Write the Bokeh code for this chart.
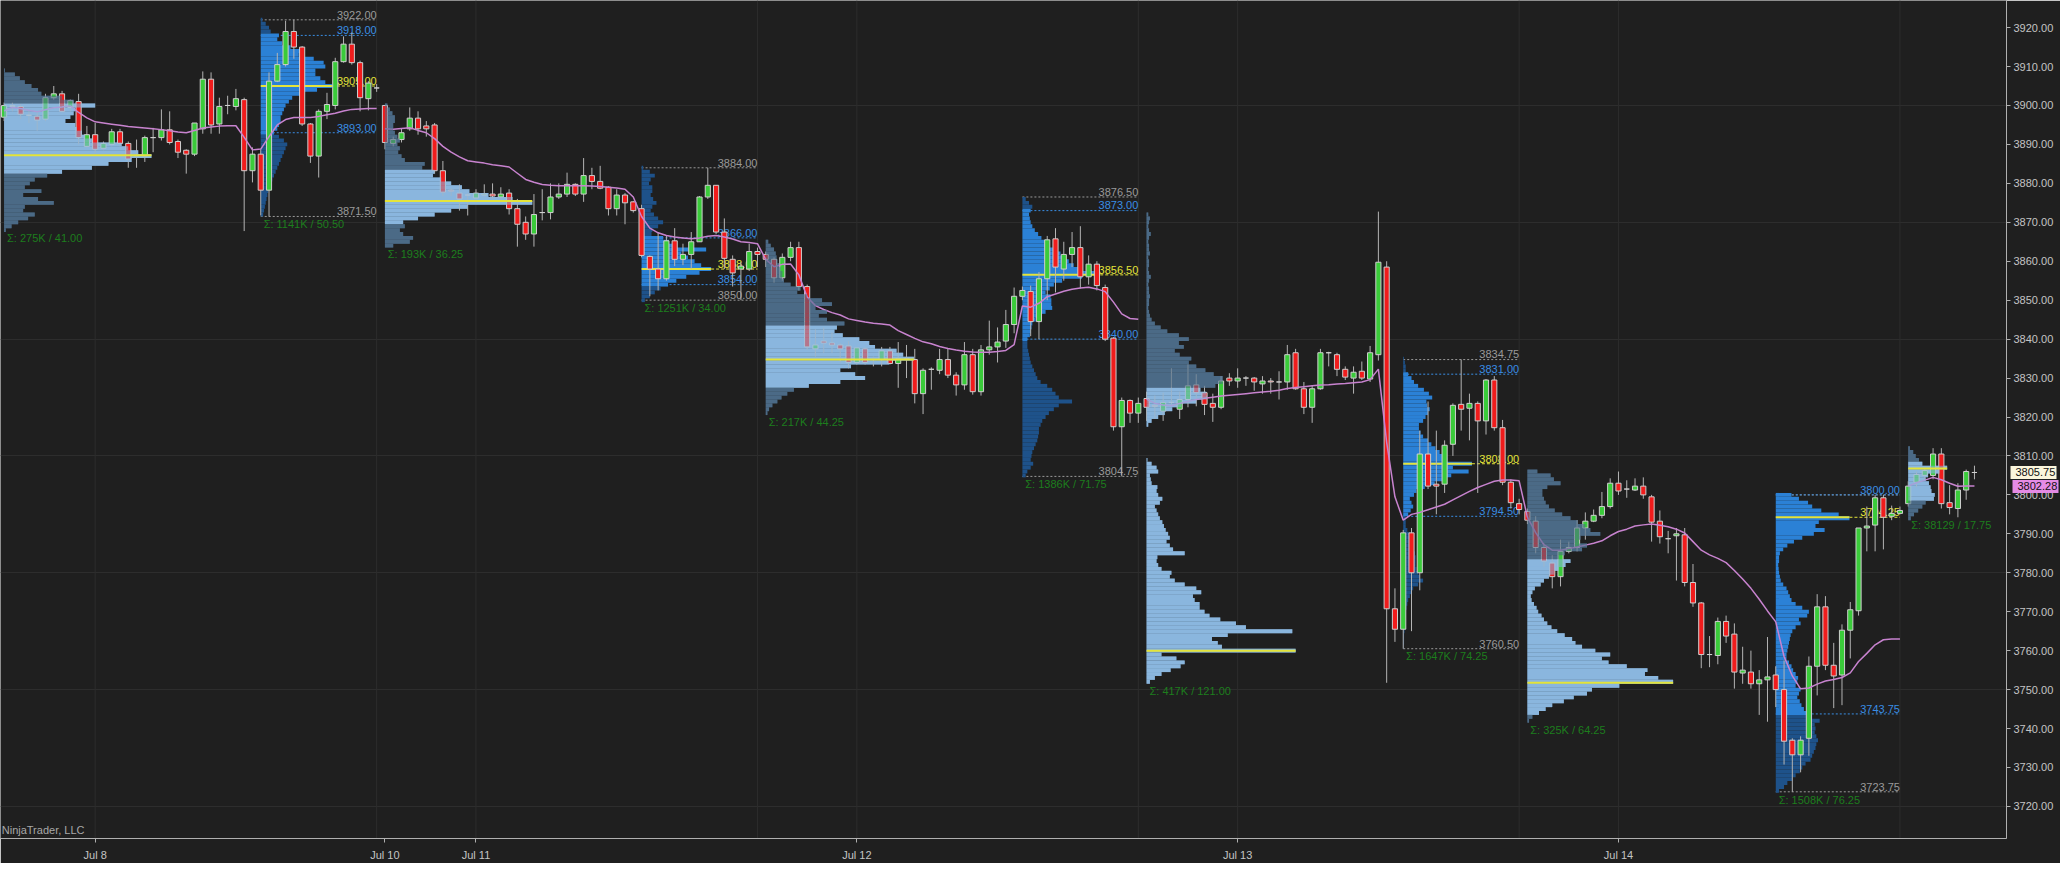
import numpy as np
from bokeh.plotting import figure
from bokeh.models import Range1d, FixedTicker, PrintfTickFormatter, LinearAxis
from bokeh.core.properties import value
from bokeh.embed import file_html
from bokeh.resources import INLINE

# ---------------- data: 30-minute bars ----------------
OPENS = [
    3897.0, 3899.75, 3899.75, 3897.5, 3897.25, 3896.5, 3902.0, 3903.0, 3899.5, 3901.0,
    3889.5, 3892.5, 3889.0, 3890.0, 3893.25, 3890.25, 3887.0, 3887.0, 3891.75, 3891.75,
    3893.75, 3890.75, 3888.5, 3887.5, 3894.0, 3906.75, 3895.25, 3900.0, 3899.75, 3901.5,
    3883.25, 3887.5, 3878.25, 3906.25, 3910.5, 3919.0, 3915.0, 3895.25, 3887.0, 3898.5,
    3900.0, 3911.25, 3915.75, 3911.0, 3901.75, 3904.5, 3900.0, 3890.25, 3891.25, 3894.0,
    3896.75, 3894.75, 3895.0, 3883.25, 3878.25, 3877.5, 3877.0, 3876.25, 3877.0, 3877.25,
    3876.5, 3877.5, 3873.5, 3870.0, 3867.0, 3872.5, 3872.5, 3876.5, 3877.25, 3879.75,
    3877.25, 3882.0, 3880.5, 3879.0, 3873.5, 3877.0, 3875.25, 3873.5, 3861.25, 3858.0,
    3855.5, 3865.25, 3860.5, 3861.75, 3865.0, 3876.5, 3879.5, 3867.5, 3860.5, 3858.0,
    3858.0, 3862.5, 3861.75, 3860.5, 3855.75, 3861.0, 3863.5, 3853.5, 3837.5, 3839.5,
    3839.0, 3838.5, 3838.25, 3834.0, 3837.5, 3834.75, 3834.75, 3837.0, 3833.75, 3835.0,
    3834.75, 3826.0, 3832.25, 3832.0, 3834.75, 3830.75, 3828.25, 3836.0, 3826.5, 3837.25,
    3838.0, 3839.5, 3843.75, 3851.0, 3852.25, 3844.5, 3855.5, 3865.75, 3858.0, 3861.75,
    3863.5, 3856.0, 3859.25, 3853.25, 3840.25, 3817.5, 3824.25, 3821.0, 3824.75, 3823.0,
    3821.5, 3823.75, 3822.0, 3824.5, 3828.25, 3826.25, 3823.5, 3822.5, 3830.0, 3829.25,
    3830.0, 3830.0, 3828.5, 3829.25, 3829.0, 3829.0, 3836.5, 3827.25, 3822.5, 3827.25,
    3836.5, 3836.0, 3832.25, 3830.0, 3831.75, 3829.75, 3836.0, 3858.5, 3770.75, 3765.5,
    3790.25, 3780.0, 3810.5, 3802.75, 3802.75, 3813.0, 3823.25, 3822.25, 3823.5, 3819.0,
    3829.5, 3817.25, 3803.25, 3797.75, 3795.75, 3793.25, 3786.5, 3782.5, 3779.0, 3785.5,
    3786.5, 3791.5, 3793.25, 3794.75, 3797.0, 3803.0, 3801.5, 3801.25, 3802.25, 3799.5,
    3793.25, 3788.75, 3789.5, 3789.75, 3777.5, 3772.25, 3759.0, 3758.75, 3767.5, 3764.25,
    3754.25, 3754.5, 3751.5, 3752.5, 3753.75, 3750.0, 3737.0, 3733.25, 3737.5, 3756.0,
    3771.25, 3756.25, 3753.75, 3765.25, 3770.25, 3791.5, 3792.25, 3799.25, 3794.5, 3795.25,
    3797.75, 3803.25, 3805.0, 3805.0, 3810.5, 3798.0, 3796.5, 3801.25, 3805.75,
]
HIGHS = [
    3900.75, 3900.75, 3900.25, 3898.5, 3898.25, 3903.0, 3905.0, 3903.75, 3901.5, 3903.0,
    3894.75, 3895.5, 3890.75, 3894.0, 3894.0, 3890.75, 3891.25, 3892.25, 3894.25, 3899.0,
    3898.5, 3891.25, 3888.75, 3895.5, 3908.75, 3908.5, 3902.0, 3902.5, 3904.25, 3902.0,
    3889.25, 3888.75, 3908.5, 3913.5, 3921.75, 3922.0, 3915.25, 3895.5, 3899.0, 3903.25,
    3912.25, 3917.75, 3918.75, 3911.5, 3906.25, 3905.5, 3900.0, 3892.0, 3894.0, 3899.5,
    3898.5, 3896.0, 3895.5, 3885.75, 3878.75, 3879.75, 3877.5, 3878.5, 3879.75, 3880.0,
    3879.0, 3878.5, 3876.0, 3871.5, 3877.25, 3878.5, 3880.0, 3880.0, 3882.75, 3880.0,
    3886.5, 3884.0, 3884.5, 3879.25, 3878.5, 3877.5, 3875.5, 3874.5, 3861.5, 3867.5,
    3866.5, 3868.5, 3864.5, 3867.5, 3876.75, 3884.0, 3879.5, 3871.0, 3861.5, 3859.75,
    3864.5, 3863.5, 3862.5, 3861.0, 3862.0, 3865.0, 3865.0, 3854.0, 3842.5, 3843.0,
    3841.75, 3839.0, 3839.5, 3838.0, 3838.0, 3835.5, 3838.0, 3838.0, 3839.25, 3838.5,
    3837.5, 3832.5, 3832.75, 3837.5, 3837.5, 3831.5, 3839.25, 3837.5, 3838.5, 3844.75,
    3843.0, 3847.5, 3853.25, 3853.5, 3853.75, 3857.25, 3866.5, 3868.5, 3865.0, 3867.5,
    3869.0, 3861.5, 3860.0, 3854.0, 3840.5, 3825.0, 3824.5, 3825.0, 3826.5, 3825.5,
    3826.25, 3832.5, 3826.5, 3833.5, 3831.0, 3828.0, 3826.0, 3830.5, 3831.25, 3832.5,
    3830.5, 3830.25, 3830.5, 3830.0, 3831.75, 3838.5, 3837.5, 3829.0, 3828.0, 3837.5,
    3836.75, 3836.5, 3833.0, 3833.0, 3834.25, 3838.25, 3872.75, 3860.0, 3776.0, 3791.0,
    3791.5, 3816.5, 3824.0, 3816.5, 3814.0, 3823.5, 3834.75, 3826.0, 3824.0, 3829.75,
    3830.5, 3819.25, 3804.0, 3799.0, 3796.5, 3794.5, 3787.5, 3784.5, 3788.5, 3788.0,
    3793.5, 3795.5, 3796.25, 3800.75, 3804.25, 3806.0, 3803.75, 3804.25, 3804.5, 3800.0,
    3796.0, 3790.75, 3791.5, 3791.5, 3782.25, 3772.5, 3763.75, 3768.5, 3769.0, 3767.0,
    3761.0, 3760.0, 3755.0, 3763.5, 3756.0, 3757.5, 3737.5, 3738.0, 3758.5, 3774.5,
    3774.0, 3762.0, 3766.75, 3772.5, 3791.5, 3797.0, 3800.0, 3800.0, 3797.25, 3797.0,
    3803.5, 3806.0, 3807.0, 3812.0, 3812.0, 3802.5, 3803.0, 3806.5, 3807.5,
]
LOWS = [
    3896.0, 3898.5, 3896.5, 3895.5, 3893.5, 3896.0, 3901.5, 3898.25, 3898.5, 3890.0,
    3889.25, 3887.75, 3888.5, 3889.5, 3889.5, 3884.0, 3884.0, 3885.5, 3888.0, 3891.0,
    3890.0, 3886.5, 3882.5, 3887.0, 3892.75, 3892.75, 3892.75, 3897.75, 3898.75, 3867.75,
    3880.25, 3871.75, 3871.5, 3906.0, 3910.0, 3912.0, 3894.75, 3885.25, 3881.5, 3896.5,
    3899.0, 3911.0, 3910.5, 3898.5, 3898.75, 3903.5, 3888.75, 3889.5, 3890.5, 3893.5,
    3892.5, 3892.0, 3882.5, 3876.75, 3876.75, 3873.0, 3871.75, 3875.0, 3876.5, 3876.0,
    3875.5, 3872.0, 3863.75, 3865.5, 3863.75, 3870.5, 3870.75, 3876.0, 3876.5, 3876.75,
    3875.25, 3878.5, 3878.5, 3871.75, 3871.75, 3869.5, 3872.5, 3861.0, 3851.0, 3852.5,
    3855.0, 3858.75, 3859.0, 3858.0, 3865.0, 3876.0, 3867.0, 3858.0, 3853.5, 3850.0,
    3857.5, 3858.5, 3858.5, 3854.5, 3855.0, 3860.0, 3852.5, 3837.25, 3835.5, 3836.5,
    3836.5, 3834.0, 3832.5, 3833.5, 3833.5, 3833.0, 3833.0, 3833.5, 3827.5, 3830.0,
    3823.5, 3820.75, 3827.0, 3831.0, 3830.0, 3825.5, 3827.0, 3825.75, 3825.5, 3836.0,
    3834.0, 3837.75, 3841.5, 3850.0, 3840.75, 3840.0, 3850.0, 3852.0, 3855.0, 3858.5,
    3853.0, 3854.0, 3852.5, 3839.5, 3816.5, 3804.75, 3818.5, 3818.5, 3819.0, 3819.5,
    3819.0, 3823.0, 3819.5, 3822.5, 3822.75, 3820.5, 3818.75, 3822.0, 3828.0, 3827.5,
    3828.0, 3826.75, 3826.0, 3826.0, 3824.5, 3827.0, 3827.0, 3820.75, 3818.5, 3827.0,
    3833.0, 3830.5, 3829.5, 3826.0, 3829.5, 3829.0, 3834.5, 3751.75, 3762.25, 3760.5,
    3765.0, 3775.5, 3801.5, 3795.0, 3800.5, 3810.0, 3816.5, 3814.0, 3800.5, 3815.5,
    3816.5, 3802.5, 3796.5, 3795.0, 3792.5, 3785.0, 3781.5, 3776.0, 3776.5, 3785.0,
    3785.5, 3788.5, 3793.0, 3794.0, 3796.5, 3800.0, 3799.25, 3801.0, 3799.0, 3788.0,
    3787.5, 3785.0, 3778.0, 3776.5, 3771.25, 3755.5, 3755.75, 3756.5, 3762.0, 3750.25,
    3751.5, 3750.25, 3743.5, 3741.75, 3745.5, 3730.75, 3723.75, 3728.75, 3733.0, 3748.5,
    3755.0, 3745.25, 3746.0, 3758.0, 3769.0, 3785.5, 3785.5, 3786.0, 3793.5, 3795.0,
    3797.0, 3802.0, 3804.0, 3804.0, 3796.5, 3795.0, 3794.25, 3798.75, 3804.0,
]
CLOSES = [
    3900.0, 3900.0, 3897.75, 3897.5, 3896.25, 3902.0, 3903.0, 3898.5, 3901.25, 3891.75,
    3892.5, 3888.75, 3890.25, 3893.25, 3890.25, 3886.25, 3887.25, 3891.75, 3891.75, 3893.75,
    3890.5, 3888.0, 3887.5, 3895.5, 3906.75, 3895.0, 3899.75, 3900.0, 3901.75, 3883.25,
    3887.5, 3878.25, 3906.25, 3910.5, 3919.0, 3915.0, 3895.25, 3887.0, 3898.5, 3900.25,
    3911.25, 3915.75, 3911.0, 3902.0, 3905.75, 3904.5, 3890.5, 3891.25, 3893.0, 3896.75,
    3894.0, 3894.0, 3883.25, 3877.75, 3878.0, 3876.0, 3877.0, 3877.5, 3877.25, 3876.75,
    3877.25, 3873.5, 3869.5, 3867.0, 3872.0, 3872.5, 3876.5, 3877.25, 3879.75, 3877.25,
    3882.0, 3880.5, 3878.75, 3873.5, 3877.0, 3875.0, 3873.0, 3861.5, 3858.0, 3855.5,
    3865.25, 3860.5, 3861.75, 3865.0, 3876.5, 3879.5, 3867.5, 3860.75, 3857.0, 3858.75,
    3862.5, 3861.75, 3860.5, 3855.75, 3861.0, 3863.5, 3853.5, 3838.0, 3838.5, 3839.0,
    3838.5, 3837.5, 3834.0, 3837.75, 3834.0, 3834.75, 3837.0, 3833.75, 3835.0, 3835.0,
    3826.0, 3832.0, 3832.25, 3834.75, 3830.75, 3828.25, 3836.0, 3826.5, 3837.25, 3838.0,
    3839.25, 3843.75, 3851.0, 3852.5, 3844.5, 3855.5, 3865.5, 3858.5, 3861.75, 3863.5,
    3856.0, 3859.25, 3853.75, 3840.0, 3817.5, 3824.25, 3821.0, 3823.5, 3822.5, 3822.75,
    3823.75, 3823.75, 3824.5, 3828.0, 3826.25, 3823.25, 3822.5, 3829.25, 3829.25, 3830.0,
    3830.0, 3829.0, 3829.25, 3829.0, 3829.0, 3836.0, 3827.25, 3822.5, 3827.25, 3836.5,
    3836.5, 3832.25, 3830.25, 3831.5, 3830.0, 3836.5, 3859.75, 3770.75, 3765.5, 3790.25,
    3780.0, 3810.5, 3802.25, 3802.25, 3812.75, 3823.0, 3822.0, 3823.5, 3819.0, 3829.5,
    3817.25, 3803.25, 3798.0, 3796.25, 3793.5, 3786.5, 3783.0, 3779.0, 3785.5, 3786.5,
    3791.5, 3793.25, 3794.75, 3797.0, 3803.0, 3801.0, 3801.5, 3802.25, 3800.0, 3793.0,
    3789.25, 3788.75, 3790.0, 3777.5, 3772.25, 3759.0, 3759.0, 3767.5, 3763.75, 3754.5,
    3755.0, 3751.5, 3752.5, 3753.25, 3750.0, 3736.75, 3733.25, 3737.0, 3756.0, 3771.25,
    3756.25, 3753.5, 3765.25, 3770.5, 3791.5, 3792.0, 3799.25, 3794.25, 3795.25, 3796.0,
    3802.25, 3805.25, 3806.25, 3810.5, 3797.75, 3796.75, 3801.25, 3806.0, 3805.75,
]
# session average line (pink)
AVG_LINE = [
    3898.6, 3899.5, 3899.2, 3898.8, 3898.4, 3898.9, 3899.4, 3899.6, 3899.9, 3898.2,
    3896.8, 3895.8, 3895.5, 3895.2, 3894.9, 3894.6, 3894.4, 3894.2, 3894.0, 3893.8,
    3893.5, 3893.2, 3893.0, 3893.6, 3894.2, 3894.5, 3894.7, 3894.8, 3894.8, 3891.8,
    3888.6, 3888.8, 3892.0, 3895.0, 3896.4, 3896.9, 3896.9, 3896.9, 3897.2, 3897.6,
    3898.0, 3898.6, 3899.0, 3899.1, 3899.2, 3899.2, 3894.0, 3893.9, 3894.1, 3894.3,
    3893.6, 3893.0, 3891.5, 3889.5, 3888.0, 3886.8, 3885.8, 3885.5, 3885.2, 3884.8,
    3884.5, 3884.2, 3882.6, 3881.0, 3880.3, 3879.7, 3879.5, 3879.4, 3879.4, 3879.4,
    3879.4, 3879.3, 3879.2, 3879.0, 3878.8, 3878.5, 3876.5, 3871.5, 3868.5, 3867.3,
    3866.6, 3866.2, 3866.0, 3865.8, 3866.0, 3866.4, 3866.6, 3866.2, 3865.7, 3865.0,
    3864.8, 3864.5, 3860.5, 3858.6, 3859.2, 3859.3, 3856.5, 3850.8, 3848.6, 3847.6,
    3846.8, 3846.2, 3845.2, 3844.8, 3844.4, 3844.1, 3843.9, 3843.6, 3842.2, 3841.2,
    3840.2, 3839.3, 3838.8, 3838.1, 3837.6, 3837.2, 3836.9, 3836.7, 3836.6, 3836.6,
    3836.8, 3837.1, 3838.6, 3848.5, 3848.2, 3849.2, 3850.9, 3851.6, 3852.3, 3852.8,
    3853.1, 3853.3, 3852.9, 3852.2, 3849.5, 3846.5, 3845.3, 3845.1, 3824.6, 3823.5,
    3823.1, 3822.9, 3823.5, 3824.0, 3824.5, 3824.8, 3825.1, 3825.4, 3825.6, 3825.8,
    3826.0, 3826.2, 3826.4, 3826.6, 3826.9, 3827.3, 3827.6, 3827.8, 3828.0, 3828.2,
    3828.3, 3828.5, 3828.6, 3828.8, 3829.0, 3829.6, 3832.3, 3813.5, 3799.5, 3793.5,
    3795.0, 3795.5, 3796.2, 3796.9, 3797.6, 3798.7, 3799.8, 3800.9, 3801.9, 3802.7,
    3803.5, 3803.8, 3803.8, 3803.6, 3794.3, 3790.3, 3787.2, 3785.8, 3785.8, 3786.2,
    3786.6, 3787.1, 3787.6, 3788.2, 3789.5, 3790.6, 3791.2, 3792.0, 3792.3, 3792.5,
    3792.2, 3791.8, 3791.2, 3790.2, 3788.0, 3785.8, 3784.6, 3783.7, 3782.6, 3780.6,
    3778.4, 3776.0, 3773.2, 3770.2, 3767.4, 3758.5, 3753.5, 3750.2, 3750.4, 3751.4,
    3752.2, 3752.6, 3753.1, 3754.3, 3757.2, 3759.3, 3761.5, 3762.8, 3763.0, 3763.0,
    3802.3, 3803.1, 3803.8, 3804.5, 3803.9, 3803.0, 3802.2, 3802.3, 3802.28,
]
LINE_BREAKS = [46, 138, 230]

DATE_TICKS = [11, 46, 57, 103, 149, 195]
DATE_LABELS = ["Jul 8", "Jul 10", "Jul 11", "Jul 12", "Jul 13", "Jul 14"]
SESSION_LINES = [11, 45, 57, 91, 103, 137, 149, 183, 195, 229]
PRICE_TICKS = list(range(3720, 3921, 10))
GRID_PRICES = list(range(3720, 3901, 30))

# ---------------- volume profiles (one per session) ----------------
P_START = [0, 31, 46, 77, 92, 123, 138, 169, 184, 214, 230]
P_END = [30, 45, 76, 91, 122, 137, 168, 183, 213, 229, 238]
P_RTH = [False, True, False, True, False, True, False, True, False, True, False]
P_TOP = [3909, 3922, 3900, 3884, 3865, 3876, 3872, 3835, 3806, 3800, 3812]
P_VAH = [3900, 3918, 3883, 3866, 3843.75, 3873, 3827, 3831, 3783.75, 3800, 3808]
P_VAL = [3883, 3893, 3870, 3854, 3827.25, 3840, 3752, 3794.5, 3744, 3743.75, 3798.5]
P_POC = [3887.25, 3905, 3875.5, 3858, 3834.75, 3856.5, 3760, 3808, 3751.75, 3794.25, 3806.75]
P_HIGH = [3909, 3922, 3900, 3884, 3865, 3876.5, 3872.75, 3834.75, 3806, 3800, 3812]
P_LOW = [3868, 3871.5, 3863.75, 3850, 3820.75, 3804.75, 3751.75, 3760.5, 3741.75, 3723.75, 3794.25]
P_SIGMA = ["Σ: 275K / 41.00", "Σ: 1141K / 50.50", "Σ: 193K / 36.25", "Σ: 1251K / 34.00",
           "Σ: 217K / 44.25", "Σ: 1386K / 71.75", "Σ: 417K / 121.00", "Σ: 1647K / 74.25",
           "Σ: 325K / 64.25", "Σ: 1508K / 76.25", "Σ: 38129 / 17.75"]
# widths (in bars) per 1-point price level, from P_TOP downwards
P1_W = [0.1, 1.3, 1.9, 2.5, 3.3, 4.1, 4.5, 7.0, 8.4, 11.0, 8.6, 8.4, 8.0, 7.4, 8.6, 8.8, 9.4, 9.8, 10.6, 14.2,
        15.0, 16.2, 17.8, 15.4, 12.6, 10.6, 7.0, 5.2, 3.7, 3.1, 2.5, 4.5, 2.3, 4.1, 6.0, 2.5, 2.3, 3.7, 2.9, 1.7,
        0.9, 0.2]
P2_W = [0.2, 0.6, 1.0, 1.2, 2.2, 2.0, 2.6, 3.6, 5.2, 4.6, 6.4, 7.6, 7.8, 6.6, 6.6, 7.2, 7.8, 8.6, 6.8, 5.0,
        3.8, 3.4, 3.0, 2.8, 2.6, 2.4, 2.4, 2.2, 2.0, 1.6, 2.2, 2.8, 3.2, 3.0, 2.8, 2.6, 2.4, 2.2, 2.0, 1.8,
        1.6, 1.4, 1.2, 1.0, 0.9, 0.8, 0.7, 0.6, 0.5, 0.4, 0.3]
P3_W = [0.3, 0.6, 0.9, 1.2, 1.2, 1.0, 1.0, 1.2, 1.5, 1.8, 1.5, 1.8, 1.6, 2.0, 2.4, 4.8, 4.5, 6.0, 5.8, 6.8,
        8.0, 9.3, 10.2, 12.5, 15.4, 17.8, 10.0, 8.0, 6.0, 4.0, 2.2, 2.4, 1.8, 2.2, 3.4, 3.0, 1.0]
P4_W = [0.2, 1.0, 1.6, 1.1, 0.9, 1.3, 1.3, 1.1, 1.4, 1.8, 1.3, 1.1, 1.5, 2.0, 2.6, 2.0, 1.3, 1.2, 2.6, 3.3,
        4.0, 7.8, 4.8, 5.6, 6.4, 7.2, 8.4, 7.0, 5.4, 4.2, 3.2, 2.3, 1.6, 1.0, 0.4]
P5_W = [0.3, 0.6, 1.0, 1.2, 1.3, 1.4, 1.6, 1.8, 2.0, 2.0, 2.2, 3.0, 4.2, 3.8, 5.0, 6.8, 8.0, 6.0, 7.4, 6.4,
        7.4, 9.5, 8.6, 8.3, 9.3, 11.3, 12.5, 13.2, 15.8, 16.6, 17.9, 14.9, 10.3, 9.0, 10.8, 12.0, 9.0, 5.2, 3.4, 2.6,
        1.9, 1.4, 0.8, 0.4, 0.2]
P6_W = [0.4, 0.8, 1.2, 1.0, 0.8, 0.9, 1.0, 1.2, 1.5, 1.9, 2.3, 2.9, 3.2, 4.2, 4.6, 5.2, 5.6, 6.2, 7.2, 8.8,
        7.2, 4.8, 3.8, 3.3, 2.8, 3.4, 3.5, 3.5, 3.6, 2.8, 2.0, 1.6, 1.2, 1.1, 1.0, 0.9, 0.6, 0.6, 0.6, 0.7,
        0.8, 0.9, 1.0, 1.2, 1.4, 1.6, 1.8, 2.2, 3.0, 3.6, 4.0, 4.4, 6.0, 4.4, 3.8, 3.2, 2.8, 2.4, 2.2, 2.0,
        2.0, 1.9, 1.8, 1.6, 1.4, 1.2, 1.1, 1.0, 1.3, 1.0, 0.6, 0.4]
P7_W = [0.2, 0.4, 0.3, 0.2, 0.3, 0.5, 0.3, 0.2, 0.3, 0.3, 0.4, 0.2, 0.3, 0.3, 0.2, 0.3, 0.5, 0.3, 0.2, 0.3,
        0.3, 0.4, 0.3, 0.3, 0.2, 0.3, 0.4, 0.6, 1.0, 1.7, 2.5, 3.9, 5.1, 3.9, 4.5, 3.4, 4.0, 5.4, 5.1, 6.0,
        7.1, 8.1, 9.2, 9.2, 8.3, 6.5, 7.2, 7.3, 6.0, 4.2, 3.1, 2.2, 1.4, 0.6, 0.2, 0.0, 0.0, 0.0, 0.0, 0.0,
        0.0, 0.0, 0.0, 0.1, 0.6, 1.2, 1.4, 0.4, 0.5, 0.6, 1.3, 1.2, 1.4, 1.9, 1.6, 1.0, 1.2, 1.4, 1.6, 1.9,
        2.1, 2.3, 2.6, 2.8, 2.4, 2.8, 3.2, 4.6, 1.3, 1.2, 1.4, 1.8, 3.0, 2.8, 3.4, 4.6, 6.0, 6.6, 5.6, 5.8,
        6.4, 6.4, 7.0, 7.6, 8.9, 10.8, 12.0, 17.6, 9.8, 7.9, 8.6, 9.1, 18.0, 1.8, 3.6, 4.6, 4.1, 2.9, 1.8, 1.0,
        0.4]
P8_W = [0.1, 0.2, 0.3, 0.3, 0.6, 1.0, 1.3, 1.8, 2.5, 3.1, 3.5, 2.8, 2.9, 3.2, 3.0, 2.7, 2.4, 1.9, 1.9, 2.1,
        2.4, 3.0, 3.4, 3.9, 4.4, 4.9, 5.3, 8.3, 6.0, 7.9, 5.8, 5.0, 3.8, 2.6, 1.6, 1.3, 0.8, 1.0, 1.2, 0.9,
        0.6, 0.3, 0.3, 0.3, 0.5, 0.7, 0.9, 1.0, 1.1, 1.3, 1.4, 1.5, 1.5, 1.5, 1.6, 1.8, 2.0, 2.4, 1.8, 1.2,
        1.0, 0.8, 0.6, 0.5, 0.4, 0.3, 0.3, 0.2, 0.2, 0.2, 0.15, 0.1, 0.1, 0.1, 0.05]
P9_W = [1.2, 2.8, 3.2, 4.0, 2.4, 1.8, 1.8, 2.0, 2.2, 2.6, 3.3, 4.2, 5.2, 6.1, 7.0, 7.6, 8.8, 6.4, 6.2, 7.2,
        6.6, 4.5, 3.8, 5.2, 4.6, 3.8, 3.2, 2.6, 2.0, 1.6, 0.9, 0.6, 0.4, 0.5, 0.8, 1.1, 1.3, 1.7, 2.0, 2.4,
        2.9, 3.6, 4.5, 5.4, 5.8, 6.6, 8.2, 10.0, 9.0, 9.8, 12.0, 14.5, 14.2, 15.8, 17.6, 11.1, 7.8, 7.2, 5.6, 4.4,
        3.0, 2.2, 1.4, 0.6, 0.2]
P10_W = [1.9, 2.8, 3.9, 4.4, 5.5, 7.6, 8.9, 5.2, 4.8, 5.9, 4.6, 3.2, 2.2, 1.4, 0.9, 0.5, 0.4, 0.4, 0.3, 0.35,
         0.4, 0.5, 0.6, 0.9, 1.3, 1.5, 1.7, 1.9, 2.4, 3.2, 4.0, 3.8, 2.8, 3.0, 2.4, 2.0, 1.8, 1.7, 1.6, 1.5,
         1.4, 1.3, 1.3, 1.6, 1.9, 2.1, 2.4, 2.7, 2.6, 2.4, 3.0, 2.8, 2.6, 2.9, 3.1, 3.4, 3.9, 4.4, 5.3, 4.7,
         4.8, 4.7, 4.9, 5.1, 4.9, 4.8, 4.6, 4.4, 4.2, 3.6, 3.2, 2.9, 2.4, 2.0, 1.4, 1.0, 0.4]
P11_W = [0.2, 0.6, 0.9, 1.3, 1.7, 4.7, 3.8, 2.4, 2.1, 2.5, 2.7, 2.8, 3.2, 3.1, 2.1, 1.7, 1.2, 0.7, 0.3]
P_WIDTHS = [P1_W, P2_W, P3_W, P4_W, P5_W, P6_W, P7_W, P8_W, P9_W, P10_W, P11_W]

# ---------------- styling ----------------
BG = "#1f1f1f"
GRID = "#2d2d2d"
UP = "#3acb3a"
DOWN = "#f01c1c"
WICK = "#b4b4b4"
RTH_VA, RTH_OUT = "#2b81d6", "#1e528a"
ETH_VA, ETH_OUT = "#8ab6de", "#4b6a86"
POC_COL = "#e4e43a"
HL_COL = "#9a9a9a"
VA_COL = "#3a8ee4"
SIG_COL = "#1d7d1d"
FONT = "Liberation Sans"

X0, X1 = -0.435, 241.87
Y0, Y1 = 3711.76, 3926.96

p = figure(frame_width=2006, frame_height=838, x_range=Range1d(X0, X1), y_range=Range1d(Y0, Y1),
           output_backend="svg", toolbar_location=None, y_axis_location="right",
           background_fill_color=BG, border_fill_color=BG,
           min_border_left=0, min_border_top=0, min_border_right=0, min_border_bottom=0)
p.outline_line_color = None
p.xgrid.visible = False
p.ygrid.ticker = FixedTicker(ticks=GRID_PRICES)
p.ygrid.grid_line_color = GRID

for ax in (p.xaxis[0], p.yaxis[0]):
    ax.axis_line_color = "#b0b0b0"
    ax.major_tick_line_color = "#b0b0b0"
    ax.major_tick_out = 4
    ax.major_tick_in = 0
    ax.minor_tick_line_color = None
    ax.major_label_text_color = "#c4c4c4"
    ax.major_label_text_font = FONT
    ax.major_label_text_font_size = "11px"
    ax.major_label_standoff = 3
p.xaxis.major_label_standoff = 6
p.xaxis.ticker = FixedTicker(ticks=DATE_TICKS)
p.xaxis.major_label_overrides = {t: l for t, l in zip(DATE_TICKS, DATE_LABELS)}
p.yaxis.ticker = FixedTicker(ticks=PRICE_TICKS)
p.yaxis.formatter = PrintfTickFormatter(format="%.2f")

# vertical session grid lines
p.segment(x0=SESSION_LINES, y0=[Y0] * len(SESSION_LINES), x1=SESSION_LINES, y1=[Y1] * len(SESSION_LINES),
          line_color=GRID, line_width=1)

# ---------------- profile helpers ----------------
def profile_table(k):
    w = np.array(P_WIDTHS[k], dtype=float)
    prices = P_TOP[k] - np.arange(len(w))
    inva = (prices >= P_VAL[k] - 0.01) & (prices <= P_VAH[k] + 0.01)
    if P_RTH[k]:
        cols = np.where(inva, RTH_VA, RTH_OUT)
    else:
        cols = np.where(inva, ETH_VA, ETH_OUT)
    left = np.full(len(w), float(P_START[k]))
    return dict(left=left, right=left + w, top=prices + 0.5, bottom=prices - 0.5, color=list(cols)), w.max()

tables = [profile_table(k) for k in range(len(P_START))]

# RTH reference lines (under the histograms)
for k in range(len(P_START)):
    if not P_RTH[k]:
        continue
    s, e = P_START[k], P_END[k]
    maxw = tables[k][1]
    levels = [(P_HIGH[k], HL_COL), (P_VAH[k], VA_COL), (P_VAL[k], VA_COL), (P_LOW[k], HL_COL)]
    for lv, c in levels:
        p.segment(x0=[s], y0=[lv], x1=[e], y1=[lv], line_color=c, line_width=1, line_dash="2 2")
    p.segment(x0=[s + maxw], y0=[P_POC[k]], x1=[e], y1=[P_POC[k]], line_color=POC_COL,
              line_width=1, line_dash="3 2")

# histograms (opaque)
for k in range(len(P_START)):
    d = tables[k][0]
    p.quad(left=d["left"], right=d["right"], top=d["top"], bottom=d["bottom"],
           fill_color=d["color"], line_color=None)

# RTH POC solid lines and price labels
for k in range(len(P_START)):
    if not P_RTH[k]:
        continue
    s, e = P_START[k], P_END[k]
    maxw = tables[k][1]
    p.segment(x0=[s], y0=[P_POC[k]], x1=[s + maxw], y1=[P_POC[k]], line_color=POC_COL, line_width=2)
    items = []
    if P_HIGH[k] != P_VAH[k]:
        items.append((P_HIGH[k], HL_COL))
    items += [(P_VAH[k], VA_COL), (P_POC[k], POC_COL), (P_VAL[k], VA_COL), (P_LOW[k], HL_COL)]
    for lv, c in items:
        p.text(x=[e], y=[lv + 0.3], text=["%.2f" % lv], text_align="right", text_baseline="bottom",
               text_color=c, text_font_size="11px", text_font=value(FONT))

# session totals
for k in range(len(P_START)):
    p.text(x=[P_START[k] + 0.35], y=[P_LOW[k] - 2.0], text=[P_SIGMA[k]], text_align="left",
           text_baseline="middle", text_color=SIG_COL, text_font_size="11px", text_font=value(FONT))

# ---------------- candles ----------------
o = np.array(OPENS); h = np.array(HIGHS); l = np.array(LOWS); c = np.array(CLOSES)
xs = np.arange(len(o))
up = c >= o
p.segment(x0=xs, y0=h, x1=xs, y1=l, line_color=WICK, line_width=1)
p.vbar(x=xs[up], width=0.62, top=c[up], bottom=o[up], fill_color=UP, line_color="#cfcfcf", line_width=1)
p.vbar(x=xs[~up], width=0.62, top=o[~up], bottom=c[~up], fill_color=DOWN, line_color="#cfcfcf", line_width=1)

# average line, broken where it restarts
lx, ly = [], []
for i, v in enumerate(AVG_LINE):
    if i in LINE_BREAKS:
        lx.append(np.nan); ly.append(np.nan)
    lx.append(i); ly.append(v)
p.line(x=lx, y=ly, line_color="#c883cf", line_width=1.5)

# ETH histograms veil the candles drawn beneath them
for k in range(len(P_START)):
    if P_RTH[k]:
        continue
    d = tables[k][0]
    p.quad(left=d["left"], right=d["right"], top=d["top"], bottom=d["bottom"],
           fill_color=d["color"], fill_alpha=0.58, line_color=None)
    p.segment(x0=[P_START[k]], y0=[P_POC[k]], x1=[P_START[k] + tables[k][1]], y1=[P_POC[k]],
              line_color=POC_COL, line_width=2)

# copyright
p.text(x=[X0 + 0.15], y=[3713.9], text=["NinjaTrader, LLC"], text_align="left", text_baseline="middle",
       text_color="#a8a8a8", text_font_size="11px", text_font=value(FONT))

# price tags drawn back over the price axis (last price and last average value):
# extra axes stacked outside the price axis whose ticks point inwards as filled boxes
for val, col in ((CLOSES[-1], "#fbf6dc"), (AVG_LINE[-1], "#e58be5")):
    tag = LinearAxis(ticker=FixedTicker(ticks=[val]),
                     formatter=PrintfTickFormatter(format="%.2f"),
                     axis_line_color=None, major_tick_line_color=col, major_tick_line_width=13,
                     major_tick_in=46, major_tick_out=0, minor_tick_line_color=None,
                     major_label_standoff=-41, major_label_text_color="#111111",
                     major_label_text_font=FONT, major_label_text_font_size="11px")
    p.add_layout(tag, "right")

open("out.html", "w").write(file_html(p, INLINE))
